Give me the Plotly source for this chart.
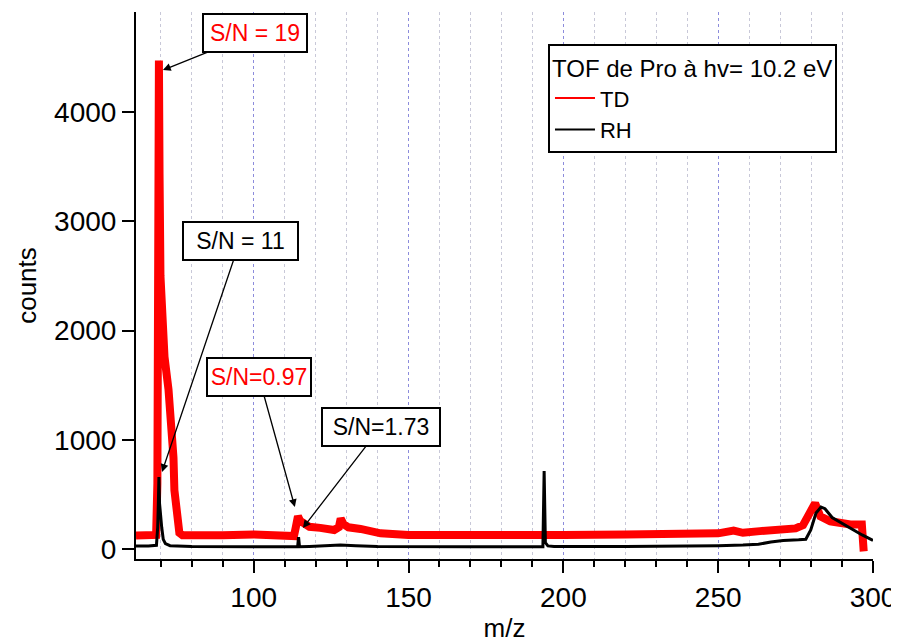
import plotly.graph_objects as go

# ---- data ----
td_mz = [62, 65, 68.5, 68.9, 69.2, 69.4, 69.6, 69.9, 70.3, 71.2, 72.5, 73.4, 74.1, 74.4,
         75.2, 76.0, 77.0, 80, 90, 100, 105, 110, 113.0, 113.6, 114.3, 115.0, 116.6, 118,
         121.5, 126, 127.5, 128.1, 129, 130.6, 134.5, 141, 150, 170, 190, 200, 220, 240,
         250, 255, 258, 263.5, 271, 275, 277.4, 279.7, 281.3, 283, 286.2, 292.7, 296.4, 297.0]
td_counts = [125, 125, 130, 600, 3000, 4470, 3440, 2500, 2100, 1760, 1460, 1150, 840, 540,
             240, 150, 128, 125, 128, 135, 125, 120, 120, 200, 300, 260, 220, 205,
             195, 175, 200, 280, 230, 200, 185, 145, 130, 125, 130, 130, 135, 140,
             145, 170, 150, 165, 180, 190, 220, 330, 420, 300, 255, 225, 225, -20]

rh_mz = [62, 66, 68.6, 69.0, 69.2, 69.4, 69.6, 69.9, 70.3, 70.8, 71.5, 73, 80, 100, 114.2,
         114.5, 114.8, 118, 124, 128, 133, 140, 170, 193.4, 193.8, 194.2, 195, 197, 220, 240,
         250, 258, 263, 267, 271, 276, 278.3, 279.9, 281.6, 283.2, 284.5, 286.8, 289.5,
         292.3, 296.5, 300]
rh_counts = [30, 28, 35, 200, 400, 660, 420, 300, 200, 90, 50, 32, 25, 22, 22,
             110, 22, 25, 30, 38, 32, 25, 22, 22, 715, 60, 30, 25, 25, 28,
             32, 38, 45, 65, 80, 85, 90, 175, 330, 385, 370, 290, 245,
             200, 130, 80]

series_names = ["TD", "RH"]
series_colors = ["#ff0000", "#000000"]
legend_title = "TOF de Pro à hv= 10.2 eV"

# annotations: label, colour, arrow tip (m/z, counts), box offset (px), box width
ann_text = ["S/N = 19", "S/N = 11", "S/N=0.97", "S/N=1.73"]
ann_color = ["#ff0000", "#000000", "#ff0000", "#000000"]
ann_mz = [70.7, 70.4, 113.3, 115.9]
ann_counts = [4384, 706, 386, 194]
ann_off = [(92, -37), (78, -231), (-36, -130), (78, -101)]
ann_w = [98, 109, 98, 112]

x_range = [62, 300]
y_range = [-90, 4915]

FONT = "Liberation Sans, Arial, sans-serif"
PAGE = 8  # default body margin of the html page

fig = go.Figure()
fig.add_trace(go.Scatter(x=td_mz, y=td_counts, mode="lines", showlegend=False,
                         line=dict(color=series_colors[0], width=8)))
fig.add_trace(go.Scatter(x=rh_mz, y=rh_counts, mode="lines", showlegend=False,
                         line=dict(color=series_colors[1], width=3)))
# legend entries (thin lines as in the reference)
for nm, col in zip(series_names, series_colors):
    fig.add_trace(go.Scatter(x=[None], y=[None], mode="lines", name=nm,
                             line=dict(color=col, width=2)))

for t, c, xm, yc, (ax, ay), w in zip(ann_text, ann_color, ann_mz, ann_counts, ann_off, ann_w):
    fig.add_annotation(x=xm, y=yc, xref="x", yref="y", text=t, showarrow=True,
                       ax=ax, ay=ay, arrowhead=2, arrowsize=1.2, arrowwidth=1.3,
                       arrowcolor="black", font=dict(family=FONT, size=23, color=c),
                       bordercolor="black", borderwidth=2, borderpad=2,
                       bgcolor="white", width=w, height=32)

fig.update_layout(
    width=899 - PAGE, height=643 - PAGE,
    margin=dict(l=136 - PAGE, r=26, t=12 - PAGE, b=84),
    paper_bgcolor="white", plot_bgcolor="white",
    font=dict(family=FONT, size=24, color="black"),
    legend=dict(x=0.559, y=0.9415, xanchor="left", yanchor="top",
                bordercolor="black", borderwidth=2, bgcolor="white",
                font=dict(family=FONT, size=22, color="black"),
                title=dict(text=legend_title, font=dict(family=FONT, size=24)),
                tracegroupgap=0, itemwidth=40),
)
fig.update_xaxes(range=x_range, showline=True, linecolor="black", linewidth=2,
                 ticks="outside", ticklen=12, tickwidth=2, tickcolor="black",
                 tick0=0, dtick=50, tickfont=dict(size=28), automargin=False,
                 showgrid=True, gridcolor="#8c8cdc", griddash="dot", gridwidth=1,
                 zeroline=False,
                 minor=dict(dtick=10, tick0=0, ticks="outside", ticklen=6, tickwidth=2,
                            tickcolor="black", showgrid=True, gridcolor="#c8c8d8",
                            griddash="dot", gridwidth=1),
                 title=dict(text="m/z", font=dict(size=26), standoff=8))
fig.update_yaxes(range=y_range, showline=True, linecolor="black", linewidth=2,
                 ticks="outside", ticklen=12, tickwidth=2, tickcolor="black",
                 tick0=0, dtick=1000, tickfont=dict(size=28), showgrid=False,
                 zeroline=False, automargin=False,
                 title=dict(text="counts", font=dict(size=26), standoff=10))

fig.write_html("out.html")
